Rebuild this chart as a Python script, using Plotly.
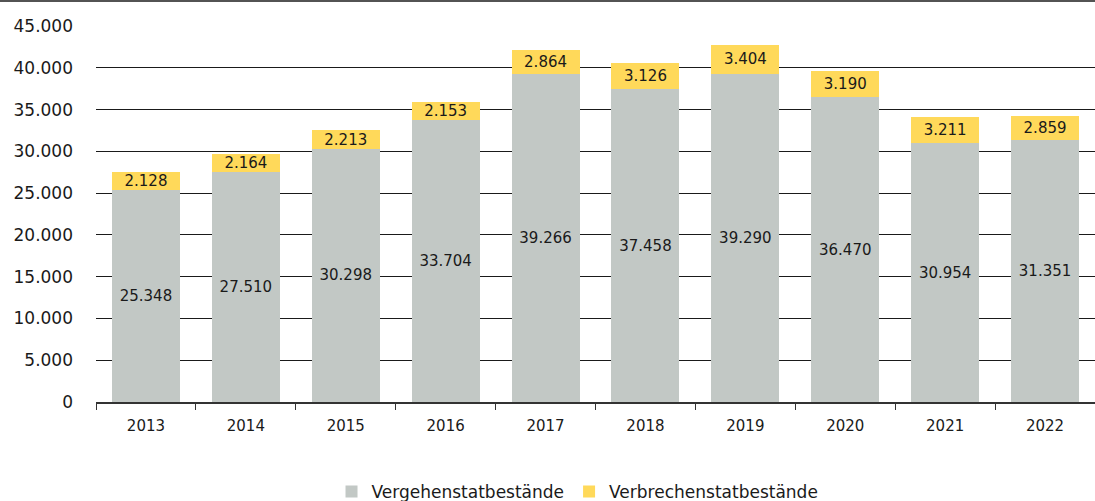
import plotly.graph_objects as go

years = ["2013", "2014", "2015", "2016", "2017", "2018", "2019", "2020", "2021", "2022"]
vergehen = [25348, 27510, 30298, 33704, 39266, 37458, 39290, 36470, 30954, 31351]
verbrechen = [2128, 2164, 2213, 2153, 2864, 3126, 3404, 3190, 3211, 2859]

FONT = "DejaVu Sans"

fig = go.Figure()
fig.add_trace(go.Bar(
    x=years, y=vergehen, name="Vergehenstatbestände",
    marker=dict(color="#C2C8C5", line=dict(width=0)),
    texttemplate="%{y:,.0f}", textposition="inside", insidetextanchor="middle",
    textfont=dict(family=FONT, size=15, color="#1a1a1a"), constraintext="none",
))
fig.add_trace(go.Bar(
    x=years, y=verbrechen, name="Verbrechenstatbestände",
    marker=dict(color="#FFD95A", line=dict(width=0)),
    texttemplate="%{y:,.0f}", textposition="inside", insidetextanchor="middle",
    textfont=dict(family=FONT, size=15, color="#1a1a1a"), constraintext="none",
))

fig.update_layout(
    barmode="stack",
    bargap=0.32,
    separators=",.",
    width=1095, height=501,
    margin=dict(l=96, r=0, t=26, b=99, autoexpand=False),
    plot_bgcolor="white", paper_bgcolor="white",
    font=dict(family=FONT, size=15, color="#1a1a1a"),
    showlegend=True,
    legend=dict(orientation="h", x=0.482, xanchor="center",
                yref="container", y=0.018, yanchor="middle",
                font=dict(size=17, family=FONT), traceorder="normal"),
    xaxis=dict(type="category", tickson="boundaries", ticks="outside", ticklen=6,
               tickcolor="#333", showline=True, linecolor="#333", linewidth=1.5,
               tickfont=dict(size=15), showgrid=False, automargin=False,
               ticklabelstandoff=9),
    yaxis=dict(range=[0, 45000], dtick=5000, tickformat=",.0f", showgrid=True,
               gridcolor="#1a1a1a", gridwidth=1, zeroline=False,
               tickfont=dict(size=17), automargin=False, ticklabelstandoff=22),
    shapes=[dict(type="line", xref="paper", yref="paper", x0=-0.1, x1=1,
                 y0=1 + 25/376, y1=1 + 25/376,
                 line=dict(color="#1a1a1a", width=1.5))],
)

fig.write_html("out.html", config={"displayModeBar": False},
               post_script="document.body.style.margin='0';document.body.style.overflow='hidden';")
